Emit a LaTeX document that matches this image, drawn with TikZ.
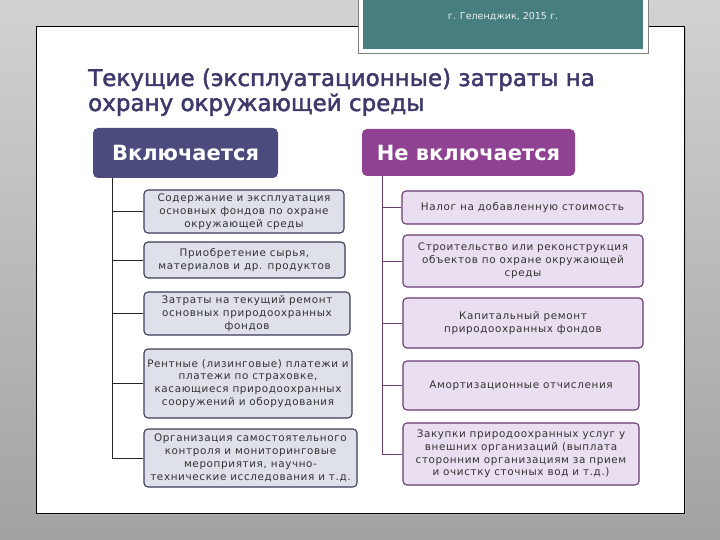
\documentclass[tikz,border=0pt]{standalone}
\usepackage{fontspec}
\setmainfont{DejaVu Sans}
\newfontfamily\boxfont[LetterSpace=6]{DejaVu Sans}
\newfontfamily\titlefont[FakeBold=2]{DejaVu Sans}
\definecolor{bgtop}{HTML}{D2D2D2}
\definecolor{bgbot}{HTML}{A2A2A2}
\definecolor{tealc}{HTML}{477E7F}
\definecolor{titlec}{HTML}{3D3A6B}
\definecolor{hdrl}{HTML}{4B4B7D}
\definecolor{hdrr}{HTML}{8F4192}
\definecolor{lfill}{HTML}{DFE1EA}
\definecolor{ldraw}{HTML}{3C3C5C}
\definecolor{rfill}{HTML}{EADFF0}
\definecolor{rdraw}{HTML}{6A3A72}
\definecolor{txt}{HTML}{333333}
\tikzset{
  hdr/.style={rounded corners=5pt, text=white, font=\bfseries\fontsize{21}{24}\selectfont, inner sep=0pt},
  ibox/.style={rounded corners=4pt, line width=1.1pt, align=center, text=txt, inner sep=1pt,
    font=\boxfont\fontsize{10.4}{12.8}\selectfont},
  lbox/.style={ibox, draw=ldraw, fill=lfill},
  rbox/.style={ibox, draw=rdraw, fill=rfill},
  lline/.style={draw=black!85, line width=0.9pt},
  rline/.style={draw=rdraw, line width=0.9pt},
  ttl/.style={anchor=base west, text=titlec, font=\titlefont\fontsize{23}{26}\selectfont, inner sep=0pt},
}
\begin{document}
\begin{tikzpicture}[x=1pt,y=-1pt]
\useasboundingbox (0,0) rectangle (720,540);
\shade[top color=bgtop, bottom color=bgbot] (0,0) rectangle (720,540);
% panel
\fill[black!30] (38,28) rectangle (686,515);
\draw[black, line width=0.8pt, fill=white] (36,26) rectangle (684,513);
% teal box
\draw[black!50, fill=white, line width=0.6pt] (358,-3) rectangle (648,53);
\fill[tealc] (363,-3) rectangle (643,49);
\node[text=white!90!tealc, font=\fontsize{9.5}{11}\selectfont] (city) at (503,17) {г. Геленджик, 2015 г.};
% title
\node[ttl] (t1) at (88,86) {Текущие (эксплуатационные) затраты на};
\node[ttl] (t2) at (88,111) {охрану окружающей среды};
% headers
\node[hdr, fill=hdrl, minimum width=185pt, minimum height=50pt] (hl) at (185.5,153) {Включается};
\node[hdr, fill=hdrr, minimum width=213pt, minimum height=47pt] (hr) at (468.5,152.5) {Не включается};
% left boxes
\node[lbox, minimum width=200pt, minimum height=43pt] (l1) at (244,211.5) {Содержание и эксплуатация\\основных фондов по охране\\окружающей среды};
\node[lbox, minimum width=201pt, minimum height=36pt] (l2) at (244.5,260) {Приобретение сырья,\\материалов и др. продуктов};
\node[lbox, minimum width=206pt, minimum height=43pt] (l3) at (247,313.5) {Затраты на текущий ремонт\\основных природоохранных\\фондов};
\node[lbox, minimum width=208pt, minimum height=69pt] (l4) at (248,383.5) {Рентные (лизинговые) платежи и\\платежи по страховке,\\касающиеся природоохранных\\сооружений и оборудования};
\node[lbox, minimum width=213pt, minimum height=58pt] (l5) at (250.5,458) {Организация самостоятельного\\контроля и мониторинговые\\мероприятия, научно-\\технические исследования и т.д.};
% right boxes
\node[rbox, minimum width=241pt, minimum height=33pt] (r1) at (522.5,207.5) {Налог на добавленную стоимость};
\node[rbox, minimum width=240pt, minimum height=52pt] (r2) at (523,261) {Строительство или реконструкция\\объектов по охране окружающей\\среды};
\node[rbox, minimum width=240pt, minimum height=50pt] (r3) at (523,323) {Капитальный ремонт\\природоохранных фондов};
\node[rbox, minimum width=236pt, minimum height=49pt] (r4) at (521,385.5) {Амортизационные отчисления};
\node[rbox, minimum width=236pt, minimum height=62pt] (r5) at (521,454) {Закупки природоохранных услуг у\\внешних организаций (выплата\\сторонним организациям за прием\\и очистку сточных вод и т.д.)};
% connectors
\coordinate (lt) at (112,178);
\coordinate (rt) at (382,176);
\draw[lline] (lt) |- (l5.west);
\foreach \n in {l1,l2,l3,l4} \draw[lline] (lt |- \n.west) -- (\n.west);
\draw[rline] (rt) |- (r5.west);
\foreach \n in {r1,r2,r3,r4} \draw[rline] (rt |- \n.west) -- (\n.west);
\end{tikzpicture}
\end{document}
